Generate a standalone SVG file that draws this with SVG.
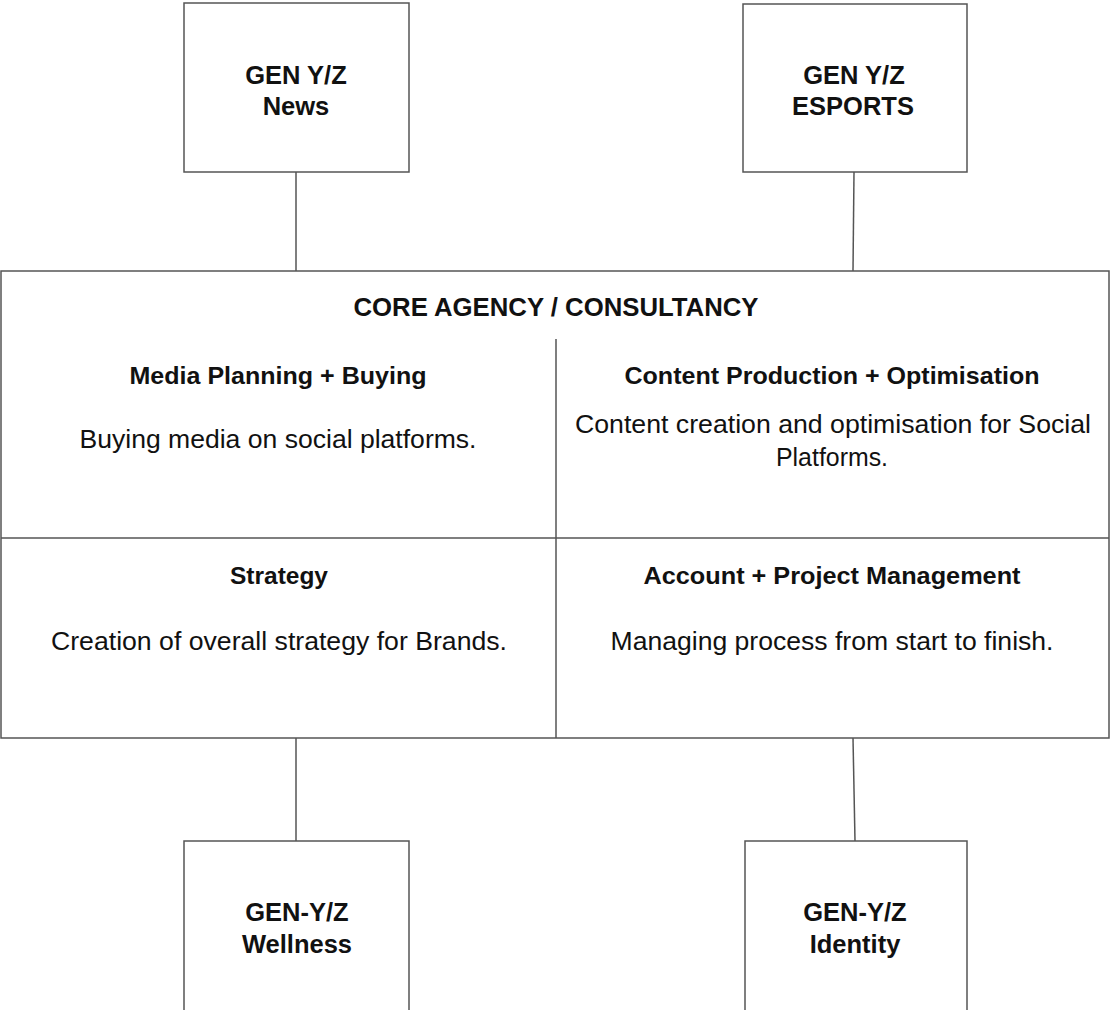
<svg xmlns="http://www.w3.org/2000/svg" width="1110" height="1010" viewBox="0 0 1110 1010">
<style>
.box{fill:#fff;stroke:#555;stroke-width:1.5}
.ln{stroke:#555;stroke-width:1.5;fill:none}
.t{font-family:"Liberation Sans",Arial,sans-serif;fill:#111;text-anchor:middle}
.b{font-weight:bold;font-size:25.5px}
.h{font-weight:bold;font-size:24px}
.r{font-size:25px}
</style>
<rect width="1110" height="1010" fill="#fff"/>
<g id="connectors">
<line class="ln" x1="296" y1="172" x2="296" y2="271"/>
<line class="ln" x1="854" y1="172" x2="853" y2="271"/>
<line class="ln" x1="296" y1="738" x2="296" y2="841"/>
<line class="ln" x1="853" y1="738" x2="855" y2="841"/>
</g>
<g id="core">
<rect class="box" x="1" y="271" width="1108" height="467"/>
<line class="ln" x1="556" y1="339" x2="556" y2="738"/>
<line class="ln" x1="1" y1="538" x2="1109" y2="538"/>
<text class="t" x="556" y="316" font-weight="bold" font-size="25" textLength="405" lengthAdjust="spacingAndGlyphs">CORE AGENCY / CONSULTANCY</text>
</g>
<g id="media">
<text class="t h" x="278" y="384" textLength="297" lengthAdjust="spacingAndGlyphs">Media Planning + Buying</text>
<text class="t r" x="278" y="448" textLength="397" lengthAdjust="spacingAndGlyphs">Buying media on social platforms.</text>
</g>
<g id="content">
<text class="t h" x="832" y="384" textLength="415" lengthAdjust="spacingAndGlyphs">Content Production + Optimisation</text>
<text class="t r" x="833" y="433" textLength="516" lengthAdjust="spacingAndGlyphs">Content creation and optimisation for Social</text>
<text class="t r" x="832" y="466" textLength="112" lengthAdjust="spacingAndGlyphs">Platforms.</text>
</g>
<g id="strategy">
<text class="t h" x="279" y="584" textLength="98" lengthAdjust="spacingAndGlyphs">Strategy</text>
<text class="t r" x="279" y="650" textLength="456" lengthAdjust="spacingAndGlyphs">Creation of overall strategy for Brands.</text>
</g>
<g id="account">
<text class="t h" x="832" y="584" textLength="377" lengthAdjust="spacingAndGlyphs">Account + Project Management</text>
<text class="t r" x="832" y="650" textLength="443" lengthAdjust="spacingAndGlyphs">Managing process from start to finish.</text>
</g>
<g id="news">
<rect class="box" x="184" y="3" width="225" height="169"/>
<text class="t b" x="296" y="84">GEN Y/Z</text>
<text class="t b" x="296" y="115">News</text>
</g>
<g id="esports">
<rect class="box" x="743" y="4" width="224" height="168"/>
<text class="t b" x="854" y="84">GEN Y/Z</text>
<text class="t b" x="853" y="115">ESPORTS</text>
</g>
<g id="wellness">
<rect class="box" x="184" y="841" width="225" height="180"/>
<text class="t b" x="297" y="921">GEN-Y/Z</text>
<text class="t b" x="297" y="953">Wellness</text>
</g>
<g id="identity">
<rect class="box" x="745" y="841" width="222" height="180"/>
<text class="t b" x="855" y="921">GEN-Y/Z</text>
<text class="t b" x="855" y="953">Identity</text>
</g>
</svg>
